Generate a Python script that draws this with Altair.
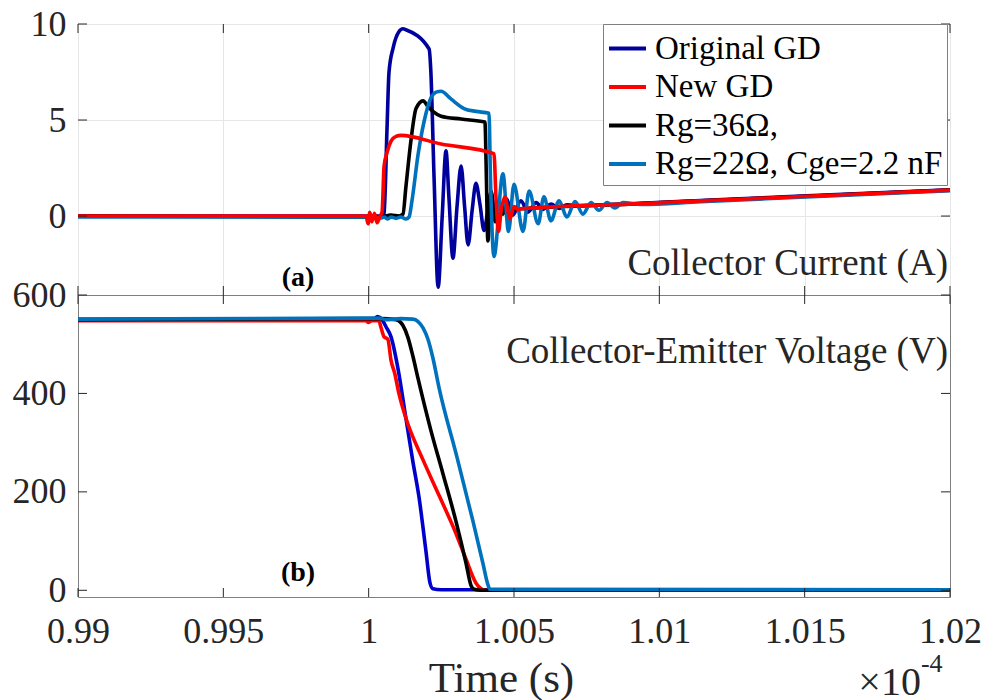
import altair as alt
import pandas as pd

FONT = "'Liberation Serif', 'Times New Roman', Times, 'DejaVu Serif', serif"
TXT = "#262626"

SERIES = ["Original GD", "New GD", "Rg=36Ω,", "Rg=22Ω, Cge=2.2 nF"]
TOP_COLORS = ["#00009c", "#ff0000", "#000000", "#0072bd"]
BOT_COLORS = ["#0000cc", "#ff0000", "#000000", "#0072bd"]

X_TICKS = [0.99, 0.995, 1.0, 1.005, 1.01, 1.015, 1.02]
IC_TICKS = [0, 5, 10]
VCE_TICKS = [0, 200, 400, 600]

# ---- (a) Collector current (A), time in units of 1e-4 s ----
ic_orig_t = [0.99, 1.00042, 1.00053, 1.00063, 1.0007, 1.00084, 1.00104, 1.00118, 1.00128,
             1.00208, 1.00214, 1.00225, 1.00239, 1.00253, 1.00266, 1.00276, 1.0029, 1.00304,
             1.00318, 1.0033, 1.00342, 1.00356, 1.00369, 1.00383, 1.00397, 1.0041, 1.00421,
             1.00431, 1.00445, 1.00473, 1.00496, 1.00524, 1.00548, 1.00576, 1.006, 1.00627,
             1.00655, 1.00682, 1.00737, 1.00937, 1.01143, 1.01487, 1.02]
ic_orig_v = [0, 0, 0.1, 4.5, 7.5, 8.75, 9.6, 9.75, 9.7,
             8.7, 7.5, 2.0, -3.7, 0.0, 3.4, 1.0, -2.2, 0.5,
             2.6, 0.5, -1.5, 0.3, 1.7, 0.6, -0.75, 0.3, 1.2,
             0.4, -0.1, 0.9, 0.05, 0.8, 0.2, 0.7, 0.35, 0.62,
             0.4, 0.58, 0.55, 0.67, 0.81, 1.04, 1.37]

ic_new_t = [0.99, 0.99991, 0.99998, 1.00004, 1.00011, 1.0002, 1.00029, 1.00039, 1.00046,
            1.00053, 1.00063, 1.00077, 1.00094, 1.00111, 1.00249, 1.00431, 1.00438, 1.00447,
            1.00455, 1.00469, 1.00479, 1.00486, 1.005, 1.00514, 1.00524, 1.00937, 1.01143,
            1.01487, 1.02]
ic_new_v = [0, 0, -0.4, 0.2, -0.3, 0.15, -0.35, 0.0, 0.2,
            2.6, 3.3, 3.9, 4.15, 4.2, 3.75, 3.25, 1.0, -0.8,
            0.2, 1.0, 0.3, -0.15, 0.5, 0.33, 0.38, 0.65, 0.79,
            1.02, 1.35]

ic_r36_t = [0.99, 1.00042, 1.00077, 1.00104, 1.00118, 1.00128, 1.00146, 1.00163, 1.00187,
            1.00204, 1.00221, 1.00249, 1.00318, 1.004, 1.00405, 1.0041, 1.00421, 1.00435,
            1.00448, 1.00462, 1.00476, 1.00496, 1.00524, 1.00937, 1.01143, 1.01487, 1.02]
ic_r36_v = [0, -0.05, 0.05, 0.0, 0.1, 1.5, 4.0, 5.6, 6.0,
            5.7, 5.45, 5.2, 5.05, 4.9, 2.0, -1.3, 1.3, -0.3,
            0.8, 0.1, 0.6, 0.35, 0.38, 0.65, 0.79, 1.02, 1.35]

ic_r22_t = [0.99, 0.99998, 1.00011, 1.0002, 1.00029, 1.00042, 1.00053, 1.00066, 1.00077,
            1.00094, 1.00111, 1.00128, 1.00139, 1.00149, 1.0017, 1.00191, 1.00214, 1.00232,
            1.00249, 1.00283, 1.00328, 1.00369, 1.00414, 1.00419, 1.00431, 1.00462, 1.00481,
            1.005, 1.00531, 1.00552, 1.00583, 1.00603, 1.00627, 1.00655, 1.00682, 1.0071,
            1.00737, 1.00765, 1.00792, 1.0082, 1.00847, 1.00875, 1.00937, 1.01143, 1.01487,
            1.02]
ic_r22_v = [-0.05, -0.05, -0.2, 0.0, -0.1, -0.1, -0.05, -0.15, -0.05,
            -0.12, -0.05, -0.15, -0.05, 0.8, 3.2, 4.95, 6.15, 6.45,
            6.5, 6.1, 5.6, 5.45, 5.35, 2.0, -2.1, 2.2, -0.8,
            1.65, -0.8, 1.3, -0.4, 1.0, -0.25, 0.8, -0.05, 0.75,
            0.1, 0.7, 0.3, 0.7, 0.42, 0.7, 0.6, 0.75, 0.98,
            1.32]

# ---- (b) Collector-emitter voltage (V) ----
vce_orig_t = [0.99, 1.00014, 1.00031, 1.00046, 1.0006, 1.00077, 1.00101, 1.00128, 1.00152,
              1.00173, 1.00197, 1.00211, 1.00221, 1.00249, 1.02]
vce_orig_v = [550, 550, 556, 550, 535, 515, 450, 350, 262,
              190, 80, 15, 3, 1, 1]

vce_new_t = [0.99, 0.99991, 0.99998, 1.00011, 1.00035, 1.00042, 1.00053, 1.00066, 1.00077,
             1.0009, 1.00104, 1.00128, 1.00187, 1.00242, 1.003, 1.00335, 1.00369, 1.00387,
             1.00404, 1.02]
vce_new_v = [548, 548, 544, 548, 548, 535, 515, 510, 467,
             440, 400, 350, 265, 193, 116, 63, 15, 3,
             0, 0]

vce_r36_t = [0.99, 1.00042, 1.00094, 1.00118, 1.00135, 1.00152, 1.0017, 1.00214, 1.00256,
             1.003, 1.00335, 1.00352, 1.00363, 1.00387, 1.02]
vce_r36_v = [550, 552, 550, 538, 514, 476, 430, 325, 236,
             141, 55, 10, 2, 0, 0]

vce_r22_t = [0.99, 1.00035, 1.0006, 1.00111, 1.00152, 1.0017, 1.00187, 1.00204, 1.00221,
             1.00242, 1.00304, 1.00359, 1.00393, 1.0041, 1.00417, 1.02]
vce_r22_v = [551, 553, 550, 552, 551, 546, 533, 510, 472,
             412, 270, 140, 55, 12, 2, 1]

# ---- annotations (data coordinates) ----
PANEL_LABELS = ["(a)", "(b)"]
PANEL_LABEL_T = [0.99757, 0.99757]
PANEL_LABEL_V = [-3.2, 35]
QTY_LABELS = ["Collector Current (A)", "Collector-Emitter Voltage (V)"]
QTY_LABEL_T = [1.01993, 1.01993]
QTY_LABEL_V = [-2.5, 484]
EXP_TEXT = ["×10", "-4"]
EXP_T = [1.0190, 1.0190]
EXP_V = [-188, -150]

W, H1, H2 = 872, 271, 302

xs = alt.Scale(domain=[0.99, 1.02], nice=False, zero=False)
ys1 = alt.Scale(domain=[-4.11, 10], nice=False, zero=False)
ys2 = alt.Scale(domain=[-13.6, 600], nice=False, zero=False)

GRID = "#e6e6e6"

X_TOP = alt.X("t:Q", scale=xs, axis=alt.Axis(values=X_TICKS, labels=False, ticks=False,
                                              domain=False, grid=True, gridColor=GRID,
                                              title=None))
Y_TOP = alt.Y("v:Q", scale=ys1, axis=alt.Axis(values=IC_TICKS, format="d", labelFont=FONT,
                                               labelFontSize=36, labelColor=TXT, labelPadding=12,
                                               ticks=False, domain=False, grid=True,
                                               gridColor=GRID, title=None, minExtent=77,
                                               maxExtent=77, labelOverlap=False))
X_BOT = alt.X("t:Q", scale=xs, axis=alt.Axis(values=X_TICKS, format="~g", labelFont=FONT,
                                              labelFontSize=36, labelColor=TXT, labelPadding=17,
                                              labelFlush=False, labelOverlap=False, ticks=False,
                                              domain=False, grid=False, title="Time (s)",
                                              titleFont=FONT, titleFontSize=43,
                                              titleFontWeight="normal", titleColor=TXT,
                                              titleX=423, titleY=94, titleBaseline="alphabetic",
                                              titleAlign="center"))
Y_BOT = alt.Y("v:Q", scale=ys2, axis=alt.Axis(values=VCE_TICKS, format="d", labelFont=FONT,
                                               labelFontSize=36, labelColor=TXT, labelPadding=12,
                                               ticks=False, domain=False, grid=False, title=None,
                                               minExtent=77, maxExtent=77, labelOverlap=False))

COLOR_TOP = alt.Color("series:N", scale=alt.Scale(domain=SERIES, range=TOP_COLORS),
                      legend=alt.Legend(title=None, orient="none", legendX=525, legendY=0,
                                        symbolType="stroke", symbolStrokeWidth=4,
                                        symbolSize=1369, labelFont=FONT, labelFontSize=33,
                                        labelColor="black", labelOffset=7, labelLimit=500,
                                        padding=4, rowPadding=0.5, fillColor="white",
                                        strokeColor="#7f7f7f"))
COLOR_BOT = alt.Color("series:N", scale=alt.Scale(domain=SERIES, range=BOT_COLORS),
                      legend=None)


def df(ts, vs, name):
    return pd.DataFrame({"t": ts, "v": vs, "series": name})


def line(d, X, Y, C):
    return alt.Chart(d).mark_line(strokeWidth=3.6, interpolate="monotone").encode(
        x=X, y=Y, color=C)


def tick_layers(X, Y, yvals, H):
    xt = pd.DataFrame({"t": X_TICKS})
    yt = pd.DataFrame({"v": yvals})
    base = dict(color=TXT, strokeWidth=1)
    return [
        alt.Chart(xt).mark_rule(**base).encode(x=X, y=alt.value(0), y2=alt.value(9)),
        alt.Chart(xt).mark_rule(**base).encode(x=X, y=alt.value(H - 9), y2=alt.value(H)),
        alt.Chart(yt).mark_rule(**base).encode(y=Y, x=alt.value(0), x2=alt.value(9)),
        alt.Chart(yt).mark_rule(**base).encode(y=Y, x=alt.value(W - 9), x2=alt.value(W)),
    ]


top_lines = [
    line(df(ic_orig_t, ic_orig_v, SERIES[0]), X_TOP, Y_TOP, COLOR_TOP),
    line(df(ic_r36_t, ic_r36_v, SERIES[2]), X_TOP, Y_TOP, COLOR_TOP),
    line(df(ic_r22_t, ic_r22_v, SERIES[3]), X_TOP, Y_TOP, COLOR_TOP),
    line(df(ic_new_t, ic_new_v, SERIES[1]), X_TOP, Y_TOP, COLOR_TOP),
]
bot_lines = [
    line(df(vce_orig_t, vce_orig_v, SERIES[0]), X_BOT, Y_BOT, COLOR_BOT),
    line(df(vce_new_t, vce_new_v, SERIES[1]), X_BOT, Y_BOT, COLOR_BOT),
    line(df(vce_r36_t, vce_r36_v, SERIES[2]), X_BOT, Y_BOT, COLOR_BOT),
    line(df(vce_r22_t, vce_r22_v, SERIES[3]), X_BOT, Y_BOT, COLOR_BOT),
]


def text_layer(t, v, label, X, Y, **kw):
    d = pd.DataFrame({"t": [t], "v": [v], "label": [label]})
    return alt.Chart(d).mark_text(font=FONT, **kw).encode(x=X, y=Y, text="label:N")


top_text = [
    text_layer(PANEL_LABEL_T[0], PANEL_LABEL_V[0], PANEL_LABELS[0], X_TOP, Y_TOP,
               fontSize=28, fontWeight="bold", color="black", align="center"),
    text_layer(QTY_LABEL_T[0], QTY_LABEL_V[0], QTY_LABELS[0], X_TOP, Y_TOP,
               fontSize=37, color=TXT, align="right"),
]
bot_text = [
    text_layer(PANEL_LABEL_T[1], PANEL_LABEL_V[1], PANEL_LABELS[1], X_BOT, Y_BOT,
               fontSize=28, fontWeight="bold", color="black", align="center"),
    text_layer(QTY_LABEL_T[1], QTY_LABEL_V[1], QTY_LABELS[1], X_BOT, Y_BOT,
               fontSize=37, color=TXT, align="right"),
    text_layer(EXP_T[0], EXP_V[0], EXP_TEXT[0], X_BOT, Y_BOT,
               fontSize=40, color=TXT, align="right"),
    text_layer(EXP_T[1], EXP_V[1], EXP_TEXT[1], X_BOT, Y_BOT,
               fontSize=26, color=TXT, align="left"),
]

top = alt.layer(*top_lines, *top_text, *tick_layers(X_TOP, Y_TOP, IC_TICKS, H1)).properties(
    width=W, height=H1)
bot = alt.layer(*bot_lines, *bot_text, *tick_layers(X_BOT, Y_BOT, VCE_TICKS, H2)).properties(
    width=W, height=H2)

chart = (
    alt.vconcat(top, bot, spacing=0, bounds="flush")
    .resolve_scale(color="independent")
    .properties(padding={"left": 0, "top": 5, "right": 2, "bottom": 0}, background="white")
    .configure_view(stroke="#7f7f7f", strokeWidth=1)
)

chart.save("out.html", embed_options={"renderer": "svg", "actions": False})
